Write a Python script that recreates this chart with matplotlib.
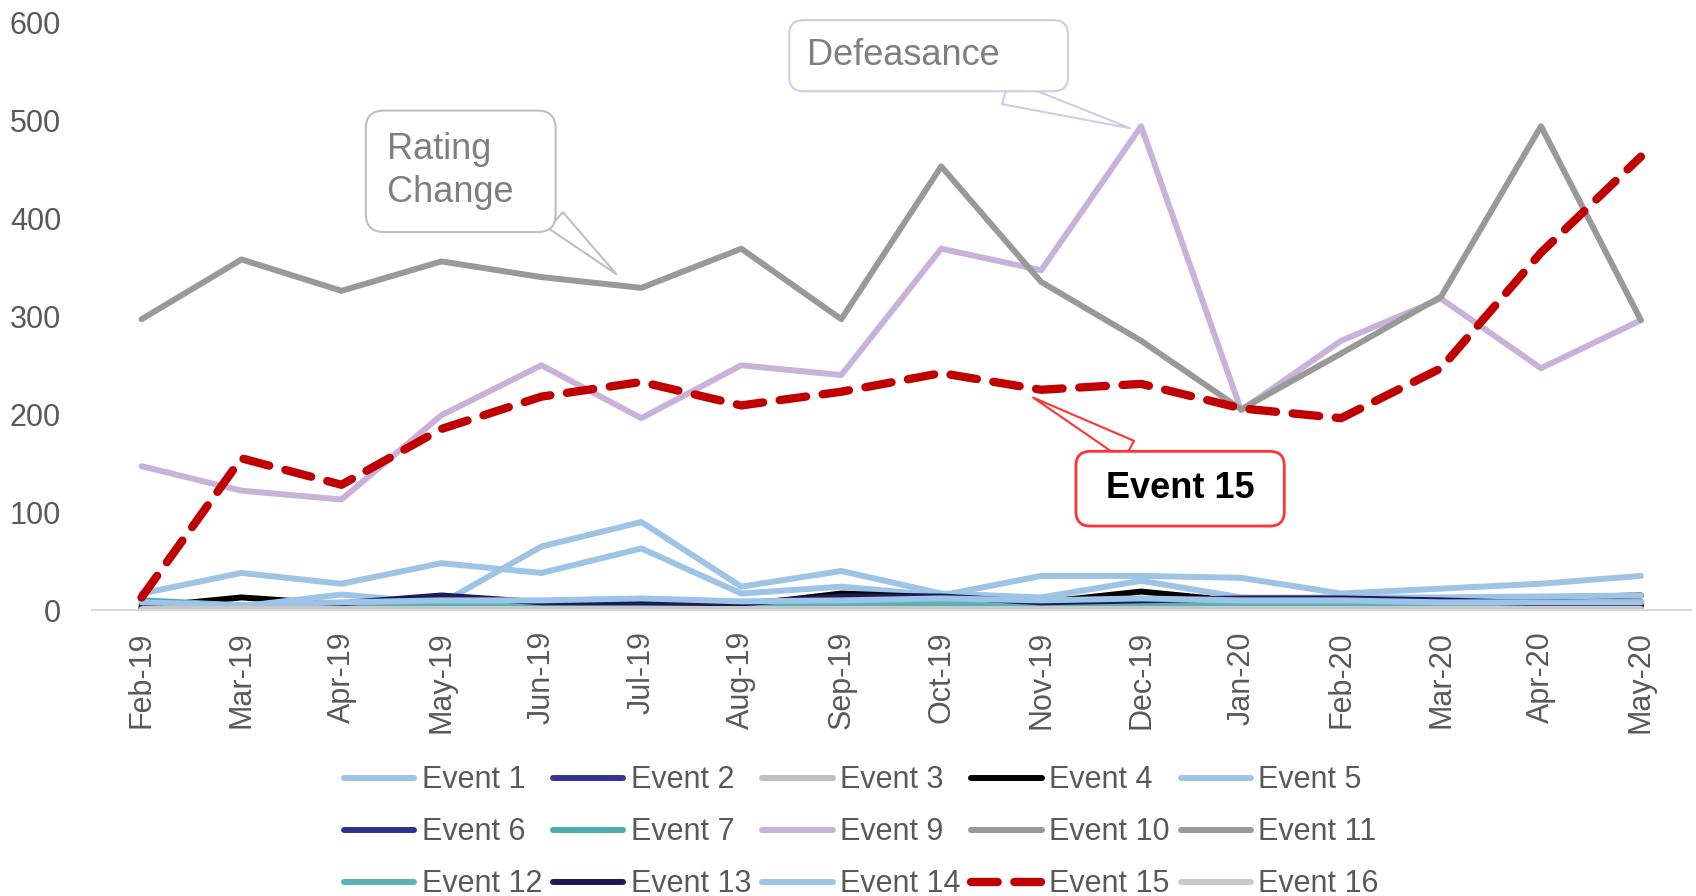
import numpy as np
import matplotlib.pyplot as plt

plt.rcParams['font.family'] = ['Liberation Sans', 'DejaVu Sans']

months = ['Feb-19', 'Mar-19', 'Apr-19', 'May-19', 'Jun-19', 'Jul-19', 'Aug-19', 'Sep-19',
          'Oct-19', 'Nov-19', 'Dec-19', 'Jan-20', 'Feb-20', 'Mar-20', 'Apr-20', 'May-20']

event_1 = [17, 38, 27, 48, 38, 63, 17, 24, 15, 35, 35, 33, 17, 22, 27, 35]
event_2 = [2, 1, 2, 2, 1, 1, 1, 1, 1, 1, 1, 1, 1, 1, 1, 1]
event_3 = [3, 3, 4, 3, 3, 3, 3, 3, 3, 3, 3, 3, 3, 3, 3, 3]
event_4 = [3, 13, 6, 12, 7, 7, 5, 17, 13, 8, 19, 9, 9, 12, 13, 15]
event_5 = [10, 4, 16, 7, 65, 90, 24, 40, 17, 13, 30, 13, 13, 13, 14, 15]
event_6 = [2, 2, 3, 2, 2, 2, 2, 2, 2, 2, 2, 2, 2, 3, 3, 4]
event_7 = [10, 5, 4, 5, 4, 4, 4, 4, 4, 4, 3, 3, 3, 3, 3, 3]
event_9 = [147, 122, 113, 199, 250, 196, 250, 240, 369, 347, 494, 204, 275, 318, 247, 296]
event_10 = [2, 2, 3, 5, 4, 4, 3, 3, 3, 3, 3, 3, 3, 5, 6, 9]
event_11 = [297, 358, 326, 356, 340, 329, 369, 297, 453, 335, 275, 205, 262, 320, 494, 296]
event_12 = [8, 4, 5, 6, 5, 5, 5, 6, 7, 5, 5, 5, 5, 5, 5, 5]
event_13 = [5, 3, 7, 15, 8, 8, 7, 14, 14, 8, 10, 12, 12, 10, 7, 5]
event_14 = [8, 5, 8, 10, 10, 12, 9, 10, 12, 10, 12, 10, 10, 8, 8, 8]
event_15 = [13, 155, 128, 185, 218, 233, 209, 223, 242, 225, 231, 206, 196, 247, 365, 463]
event_16 = [1, 1, 1, 1, 1, 1, 1, 1, 1, 1, 1, 1, 1, 1, 1, 1]

labels = ['Event 1', 'Event 2', 'Event 3', 'Event 4', 'Event 5',
          'Event 6', 'Event 7', 'Event 9', 'Event 10', 'Event 11',
          'Event 12', 'Event 13', 'Event 14', 'Event 15', 'Event 16']
series = [event_1, event_2, event_3, event_4, event_5,
          event_6, event_7, event_9, event_10, event_11,
          event_12, event_13, event_14, event_15, event_16]
colors = ['#9DC3E6', '#333399', '#BFBFBF', '#000000', '#9DC3E6',
          '#2E3192', '#4BACB0', '#C9B1DA', '#999999', '#999999',
          '#5BB1B8', '#1B1B55', '#9DC3E6', '#C00000', '#C8C8C8']

grey = '#595959'

fig = plt.figure(figsize=(16.96, 8.96), dpi=100)
ax = fig.add_axes([0.054, 0.319, 0.943, 0.656])

x = np.arange(len(months))
handles = []
for name, vals, col in zip(labels, series, colors):
    if name == 'Event 15':
        h, = ax.plot(x, vals, color=col, lw=6, ls=(0, (3.2, 2.0)),
                     dash_capstyle='round', solid_capstyle='round', zorder=5, label=name)
    else:
        h, = ax.plot(x, vals, color=col, lw=4.3, solid_capstyle='round', label=name)
    handles.append(h)

ax.set_xlim(-0.5, len(months) - 0.5)
ax.set_ylim(0, 600)
ax.set_yticks(range(0, 601, 100))
ax.set_xticks(x)
ax.set_xticklabels(months, rotation=90)
ax.tick_params(axis='both', length=0, labelsize=22, labelcolor=grey)
ax.tick_params(axis='x', pad=15)
ax.tick_params(axis='y', pad=22)
for s in ['top', 'right', 'left']:
    ax.spines[s].set_visible(False)
ax.spines['bottom'].set_color('#D9D9D9')
ax.spines['bottom'].set_linewidth(1.5)

# callouts
ax.annotate('Rating  \nChange  ', xy=(4.75, 343), xytext=(2.46, 448),
            fontsize=26, color='#7F7F7F', ha='left', va='center', linespacing=1.3,
            bbox=dict(boxstyle='round,pad=0.6,rounding_size=0.5', fc='white', ec='#BFBFBF', lw=1.5),
            arrowprops=dict(arrowstyle='wedge,tail_width=0.6', fc='white', ec='#BFBFBF', lw=1.5,
                            relpos=(1.0, 0.12), shrinkA=0, shrinkB=0),
            zorder=10)
ax.annotate('Defeasance     ', xy=(9.89, 492), xytext=(6.66, 566),
            fontsize=26, color='#7F7F7F', ha='left', va='center',
            bbox=dict(boxstyle='round,pad=0.5,rounding_size=0.4', fc='white', ec='#D5C9E8', lw=1.5),
            arrowprops=dict(arrowstyle='wedge,tail_width=0.7', fc='white', ec='#D5C9E8', lw=1.5,
                            relpos=(0.55, 0.0), shrinkA=0, shrinkB=0),
            zorder=10)
ax.annotate(' Event 15 ', xy=(8.92, 217), xytext=(10.39, 124),
            fontsize=26, fontweight='bold', color='black', ha='center', va='center',
            bbox=dict(boxstyle='round,pad=0.55,rounding_size=0.4', fc='white', ec='#FF3333', lw=2),
            arrowprops=dict(arrowstyle='wedge,tail_width=0.6', fc='white', ec='#FF3333', lw=1.5,
                            relpos=(0.42, 1.0), shrinkA=0, shrinkB=0),
            zorder=10)

# legend filled row by row
order = [r * 5 + c for c in range(5) for r in range(3)]
leg = fig.legend([handles[i] for i in order], [labels[i] for i in order],
                 ncol=5, loc='upper center', bbox_to_anchor=(0.508, 0.163),
                 frameon=False, fontsize=22, handlelength=2.3, handletextpad=0.25,
                 columnspacing=0.35, labelspacing=0.72, borderpad=0)
for t in leg.get_texts():
    t.set_color(grey)

fig.savefig('out.png', dpi=100)
